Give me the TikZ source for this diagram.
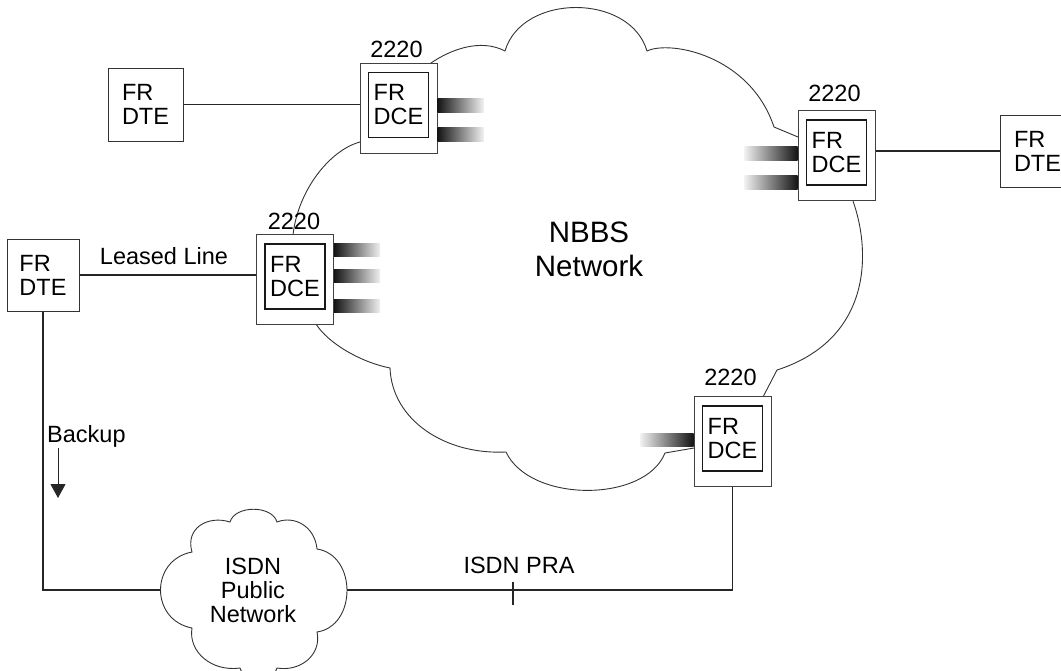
\documentclass[tikz,border=0pt]{standalone}
\usepackage{fontspec}
\setmainfont{Liberation Sans}
\usetikzlibrary{calc,arrows.meta}
\newcommand\dgfont{\fontsize{23.5}{24}\selectfont}
\newcommand\dgbig{\fontsize{29.5}{34}\selectfont}
\begin{document}
\begin{tikzpicture}[x=1pt,y=-1pt,
  line/.style={draw=black!85, line width=1.1pt},
  cloudline/.style={draw=black!80, line width=0.9pt},
  outerbox/.style={draw=black!75, line width=1pt, fill=white, minimum width=77pt, minimum height=90pt, inner sep=0pt},
  innerbox/.style={draw=black!90, line width=1.2pt, fill=white, minimum width=60pt, minimum height=65pt, inner sep=0pt, align=left, font=\dgfont},
  dtebox/.style={draw=black!80, line width=1pt, fill=white, inner sep=0pt, align=left, font=\dgfont},
  lbl/.style={inner sep=0pt, font=\dgfont},
  barR/.style={left color=black!92, right color=black!6},
  barL/.style={left color=black!6, right color=black!92},
]
\useasboundingbox (0,0) rectangle (1061,670);
\clip (0,0) rectangle (1061,670);

% NBBS cloud
\draw[cloudline] (398,108) -- (431,63)
 .. controls (450,50) and (480,38) .. (505,51)
 .. controls (522,-7) and (630,-7) .. (647,51)
 .. controls (670,40) and (750,55) .. (774,127)
 -- (798,137) -- (836,155) -- (853,201)
 .. controls (872,255) and (870,340) .. (777,370)
 -- (763,397) -- (732,441) -- (694,448) -- (665,453)
 .. controls (645,503) and (530,503) .. (506,452)
 .. controls (445,455) and (392,420) .. (390,368)
 .. controls (360,362) and (328,343) .. (316,324)
 -- (295,280) -- (293,235)
 .. controls (298,190) and (330,150) .. (360,142)
 -- cycle;

% ISDN cloud
\draw[cloudline] (192,628)
 .. controls (150,620) and (150,560) .. (192,552)
 .. controls (185,528) and (208,515) .. (230,522)
 .. controls (235,505) and (272,505) .. (277,522)
 .. controls (295,515) and (315,527) .. (317,549)
 .. controls (357,555) and (357,626) .. (317,632)
 .. controls (322,655) and (300,672) .. (277,668)
 .. controls (272,684) and (245,684) .. (240,668)
 .. controls (212,672) and (188,652) .. (192,628) -- cycle;
\coordinate (isdnW) at (161,590);
\coordinate (isdnE) at (347,590);
\node[lbl, align=center] (isdn) at (253,590) {ISDN\\Public\\Network};

% NBBS label
\node[lbl, font=\dgbig, align=center] (nbbs) at (589,249) {NBBS\\Network};

% DTE boxes
\node[dtebox, minimum width=75pt, minimum height=73pt] (dte1) at (145.5,104.5) {FR\\DTE};
\node[dtebox, minimum width=72pt, minimum height=72pt] (dte2) at (43,275) {FR\\DTE};
\node[dtebox, minimum width=75pt, minimum height=72pt] (dte3) at (1037.5,151) {FR\\DTE};

% DCE boxes
\node[outerbox] (d1) at (398.5,108) {};
\node[innerbox] (d1i) at ($(d1)+(0,-3)$) {FR\\DCE};
\node[outerbox] (d2) at (836.5,155.5) {};
\node[innerbox] (d2i) at ($(d2)+(0,-3)$) {FR\\DCE};
\node[outerbox] (d3) at (295,279.5) {};
\node[innerbox] (d3i) at ($(d3)+(0,-3)$) {FR\\DCE};
\node[outerbox] (d4) at (732.5,441.5) {};
\node[innerbox] (d4i) at ($(d4)+(0,-3)$) {FR\\DCE};

% 2220 labels
\node[lbl, anchor=base] (l1) at ($(d1.north)+(-2,-5)$) {2220};
\node[lbl, anchor=base] (l2) at ($(d2.north)+(-2,-9)$) {2220};
\node[lbl, anchor=base] (l3) at ($(d3.north)+(-1,-5)$) {2220};
\node[lbl, anchor=base] (l4) at ($(d4.north)+(-2,-11)$) {2220};

% trunk bars
\shade[barR] ($(d1.north east)+(0,36)$) rectangle ++(46,14);
\shade[barR] ($(d1.north east)+(0,65)$) rectangle ++(46,14);
\shade[barL] ($(d2.north west)+(-53,36)$) rectangle ++(53,14);
\shade[barL] ($(d2.north west)+(-53,65)$) rectangle ++(53,14);
\shade[barR] ($(d3.north east)+(0,9)$) rectangle ++(46,13);
\shade[barR] ($(d3.north east)+(0,35)$) rectangle ++(46,13);
\shade[barR] ($(d3.north east)+(0,65)$) rectangle ++(46,13);
\shade[barL] ($(d4.north west)+(-53,37)$) rectangle ++(53,13);

% connectors
\draw[line] (dte1.east) -- (dte1.east -| d1.west);
\draw[line] (d2.east |- dte3.west) -- (dte3.west);
\draw[line] (dte2.east) -- (dte2.east -| d3.west);
\draw[line] (dte2.south) -- (dte2.south |- isdnW) -- (isdnW);
\draw[line] (isdnE) -- (isdnE -| d4.south) -- (d4.south);
\coordinate (tick) at (513,591);
\draw[line] ($(tick)+(0,-9)$) -- ($(tick)+(0,14)$);

% labels
\node[lbl, anchor=base] (ll) at (164,264) {Leased Line};
\node[lbl, anchor=base] (pra) at (519,573) {ISDN PRA};
\node[lbl, anchor=base west] (bk) at (47,442) {Backup};
\coordinate (a1) at (58,448);
\coordinate (a2) at (58,498);
\draw[line, line width=1pt, -{Triangle[width=15pt,length=14pt]}] (a1) -- (a2);
\end{tikzpicture}
\end{document}
